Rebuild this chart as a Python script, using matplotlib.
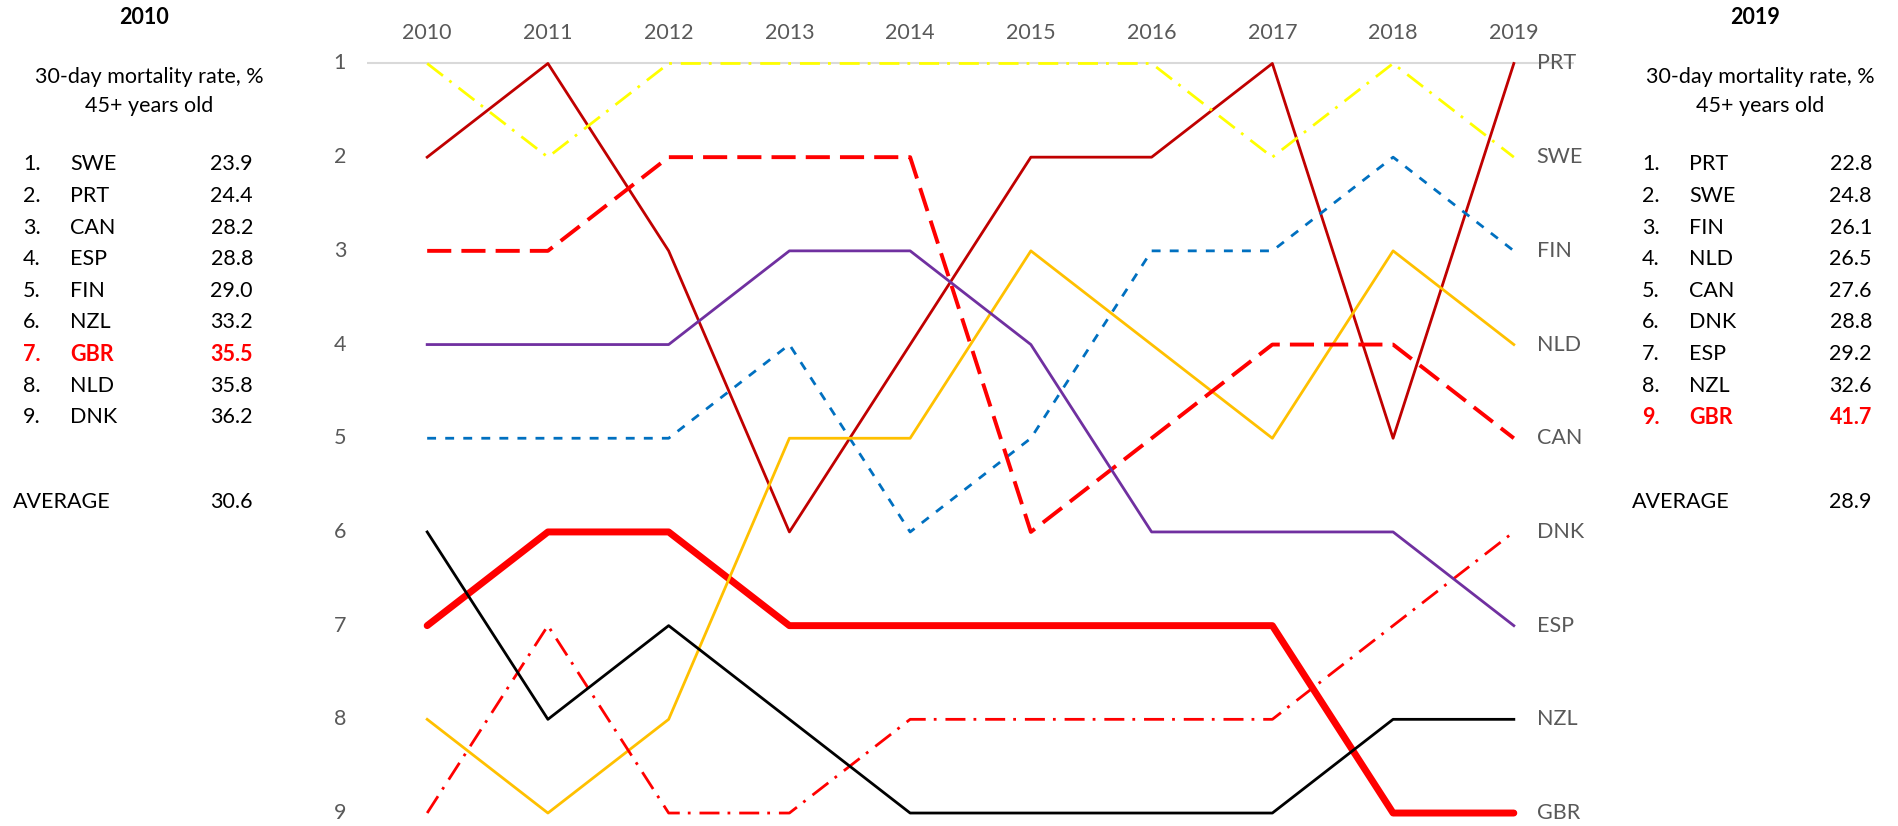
import matplotlib.pyplot as plt
import numpy as np

plt.rcParams['font.family'] = ['Lato', 'DejaVu Sans']

years = [2010, 2011, 2012, 2013, 2014, 2015, 2016, 2017, 2018, 2019]

# rank per year (1 = lowest mortality)
rank_gbr = [7, 6, 6, 7, 7, 7, 7, 7, 9, 9]
rank_prt = [2, 1, 3, 6, 4, 2, 2, 1, 5, 1]
rank_swe = [1, 2, 1, 1, 1, 1, 1, 2, 1, 2]
rank_fin = [5, 5, 5, 4, 6, 5, 3, 3, 2, 3]
rank_nld = [8, 9, 8, 5, 5, 3, 4, 5, 3, 4]
rank_can = [3, 3, 2, 2, 2, 6, 5, 4, 4, 5]
rank_dnk = [9, 7, 9, 9, 8, 8, 8, 8, 7, 6]
rank_esp = [4, 4, 4, 3, 3, 4, 6, 6, 6, 7]
rank_nzl = [6, 8, 7, 8, 9, 9, 9, 9, 8, 8]

# side tables
countries_2010 = ['SWE', 'PRT', 'CAN', 'ESP', 'FIN', 'NZL', 'GBR', 'NLD', 'DNK']
values_2010 = ['23.9', '24.4', '28.2', '28.8', '29.0', '33.2', '35.5', '35.8', '36.2']
avg_2010 = '30.6'
countries_2019 = ['PRT', 'SWE', 'FIN', 'NLD', 'CAN', 'DNK', 'ESP', 'NZL', 'GBR']
values_2019 = ['22.8', '24.8', '26.1', '26.5', '27.6', '28.8', '29.2', '32.6', '41.7']
avg_2019 = '28.9'

W, H = 1899, 826
fig = plt.figure(figsize=(W / 100, H / 100), dpi=100)

# axes placed in pixels: x 2009.5..2019.5, y 9.1..0.9
x0, x1 = 366.8, 1574.2
ytop, ybot = 54.1, 822.4
ax = fig.add_axes([x0 / W, (H - ybot) / H, (x1 - x0) / W, (ybot - ytop) / H])
ax.set_xlim(2009.5, 2019.5)
ax.set_ylim(9.1, 0.9)
ax.axis('off')

ax.axhline(1, color='#D9D9D9', lw=1.5, zorder=0)

# GBR first so it sits underneath
ax.plot(years, rank_gbr, color='#FF0000', lw=5, solid_capstyle='round',
        solid_joinstyle='round', zorder=1)
ax.plot(years, rank_prt, color='#C00000', lw=2, zorder=2)
ax.plot(years, rank_swe, color='#FFFF00', lw=2, dashes=(7.2, 2.9, 1, 3.2), zorder=2)
ax.plot(years, rank_fin, color='#0070C0', lw=2, dashes=(3.2, 3.3), zorder=2)
ax.plot(years, rank_nld, color='#FFC000', lw=2, zorder=2)
ax.plot(years, rank_can, color='#FF0000', lw=2.8, dashes=(6.2, 2.6), zorder=2)
ax.plot(years, rank_dnk, color='#FF0000', lw=2, dashes=(7.2, 2.9, 1, 3.2), zorder=2)
ax.plot(years, rank_esp, color='#7030A0', lw=2, zorder=2)
ax.plot(years, rank_nzl, color='black', lw=2, zorder=2)

tick_color = '#595959'
fs = 15.5
for y in years:
    ax.text(y, 0.674, str(y), ha='center', va='center', fontsize=fs, color=tick_color)
for r in range(1, 10):
    ax.text(2009.277, r, str(r), ha='center', va='center', fontsize=fs, color=tick_color)

end_labels = {'GBR': rank_gbr, 'PRT': rank_prt, 'SWE': rank_swe, 'FIN': rank_fin,
              'NLD': rank_nld, 'CAN': rank_can, 'DNK': rank_dnk, 'ESP': rank_esp,
              'NZL': rank_nzl}
for name, rk in end_labels.items():
    ax.text(years[-1] + 0.19, rk[-1], name, ha='left', va='center',
            fontsize=fs, color=tick_color)


def ftext(x, y, s, **kw):
    fig.text(x / W, 1 - y / H, s, va='center', fontsize=fs, **kw)


def side_panel(title, cx, num_x, name_x, val_x, avg_x, avg_y, countries, values, avg):
    ftext(cx - 5, 17.5, title, ha='center', fontweight='bold')
    ftext(cx, 77, '30-day mortality rate, %', ha='center')
    ftext(cx, 106, '45+ years old', ha='center')
    for i, (c, v) in enumerate(zip(countries, values)):
        y = 164.5 + i * 31.6
        col = '#FF0000' if c == 'GBR' else 'black'
        wt = 'bold' if c == 'GBR' else 'normal'
        ftext(num_x, y, f'{i + 1}.', ha='left', color=col, fontweight=wt)
        ftext(name_x, y, c, ha='left', color=col, fontweight=wt)
        ftext(val_x, y, v, ha='right', color=col, fontweight=wt)
    ftext(avg_x, avg_y, 'AVERAGE', ha='left')
    ftext(val_x, avg_y, avg, ha='right')


side_panel('2010', 149.5, 23, 70, 253, 13, 502, countries_2010, values_2010, avg_2010)
side_panel('2019', 1760, 1642, 1689, 1872, 1632, 502, countries_2019, values_2019, avg_2019)

fig.savefig('out.png', dpi=100)
